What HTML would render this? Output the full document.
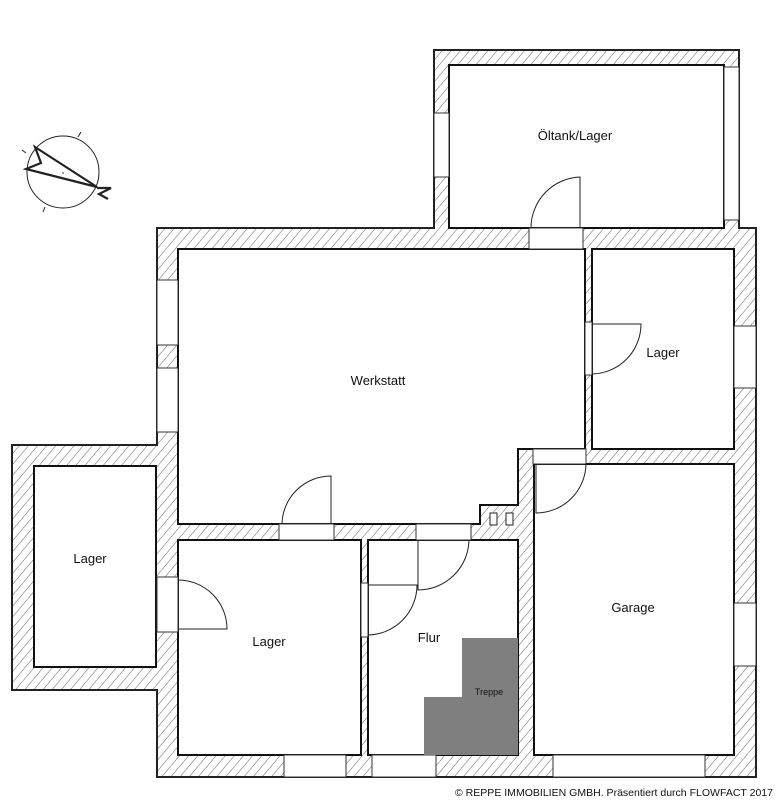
<!DOCTYPE html>
<html><head><meta charset="utf-8"><style>
html,body{margin:0;padding:0;background:#fff;width:777px;height:800px;overflow:hidden}
svg{display:block}
text{font-family:"Liberation Sans",sans-serif;fill:#111}
</style></head><body>
<svg width="777" height="800" viewBox="0 0 777 800" xmlns="http://www.w3.org/2000/svg">
<defs>
<pattern id="h" width="7" height="7" patternUnits="userSpaceOnUse" patternTransform="rotate(40)">
<line x1="0" y1="0" x2="0" y2="7" stroke="#666" stroke-width="1"/>
</pattern>
</defs>
<!-- outer walls -->
<path d="M434 50 H739 V228 H756 V777 H157 V690 H12 V445 H157 V228 H434 Z" fill="url(#h)" stroke="#222" stroke-width="2"/>
<!-- rooms -->
<g fill="#fff" stroke="#111" stroke-width="2">
<rect x="449" y="65" width="275" height="163"/>
<path d="M178 249 H585 V449 H518 V505 H480 V524 H178 Z"/>
<rect x="592" y="249" width="142" height="200"/>
<rect x="534" y="464" width="200" height="291"/>
<rect x="34" y="466" width="122" height="201"/>
<rect x="178" y="540" width="183" height="215"/>
<rect x="368" y="540" width="150" height="215"/>
</g>
<rect x="490" y="513" width="7" height="12" fill="#fff" stroke="#222" stroke-width="1"/>
<rect x="506" y="513" width="7" height="12" fill="#fff" stroke="#222" stroke-width="1"/>
<!-- openings (windows/doors) -->
<g fill="#fff" stroke="#333" stroke-width="1">
<rect x="434" y="113" width="15" height="64"/>
<rect x="724" y="67" width="15" height="153"/>
<rect x="529" y="228" width="54" height="21"/>
<rect x="157" y="280" width="21" height="65"/>
<rect x="157" y="368" width="21" height="64"/>
<rect x="734" y="326" width="22" height="62"/>
<rect x="585" y="322" width="7" height="53"/>
<rect x="533" y="449" width="53" height="15"/>
<rect x="279" y="524" width="55" height="16"/>
<rect x="416" y="524" width="55" height="16"/>
<rect x="157" y="577" width="21" height="55"/>
<rect x="361" y="583" width="7" height="54"/>
<rect x="734" y="603" width="22" height="63"/>
<rect x="284" y="755" width="62" height="22"/>
<rect x="372" y="755" width="64" height="22"/>
<rect x="553" y="755" width="152" height="22"/>
</g>
<!-- door leaves & arcs -->
<g fill="none" stroke="#222" stroke-width="1">
<path d="M580 228 V177 A51 51 0 0 0 531 228"/>
<path d="M592 324 H641 A50 50 0 0 1 592 374"/>
<path d="M536 464 V513 A50 50 0 0 0 586 464"/>
<path d="M331 524 V476 A49 49 0 0 0 282 524"/>
<path d="M418 540 V590 A51 51 0 0 0 469 540"/>
<path d="M368 585 H417 A50 50 0 0 1 368 635"/>
<path d="M178 580 A49 49 0 0 1 227 629 H178"/>
</g>
<!-- stairs -->
<path d="M462 638 H518 V755 H424 V697 H462 Z" fill="#7f7f7f"/>
<text x="489" y="695" font-size="9" text-anchor="middle">Treppe</text>
<!-- labels -->
<g font-size="13" text-anchor="middle">
<text x="575" y="140">Öltank/Lager</text>
<text x="378" y="385">Werkstatt</text>
<text x="663" y="357">Lager</text>
<text x="90" y="563">Lager</text>
<text x="269" y="646">Lager</text>
<text x="429" y="642">Flur</text>
<text x="633" y="612">Garage</text>
</g>
<text x="773" y="796" font-size="10.5" text-anchor="end" textLength="318" lengthAdjust="spacingAndGlyphs">© REPPE IMMOBILIEN GMBH. Präsentiert durch FLOWFACT 2017</text>
<!-- compass -->
<g fill="none" stroke="#222">
<circle cx="63" cy="172" r="36" stroke-width="1"/>
<line x1="78" y1="137" x2="81" y2="132" stroke-width="1"/>
<line x1="26" y1="153" x2="22" y2="150" stroke-width="1"/>
<line x1="45" y1="207" x2="43" y2="212" stroke-width="1"/>
<path d="M35 147 L97 187 L26 169 L41 163 Z" stroke-width="2.2"/>
<path d="M97 188 L111 188 L99 194 L108 199" stroke-width="2.2"/>
</g>
<circle cx="63" cy="173" r="0.8" fill="#222"/>
</svg>
</body></html>
